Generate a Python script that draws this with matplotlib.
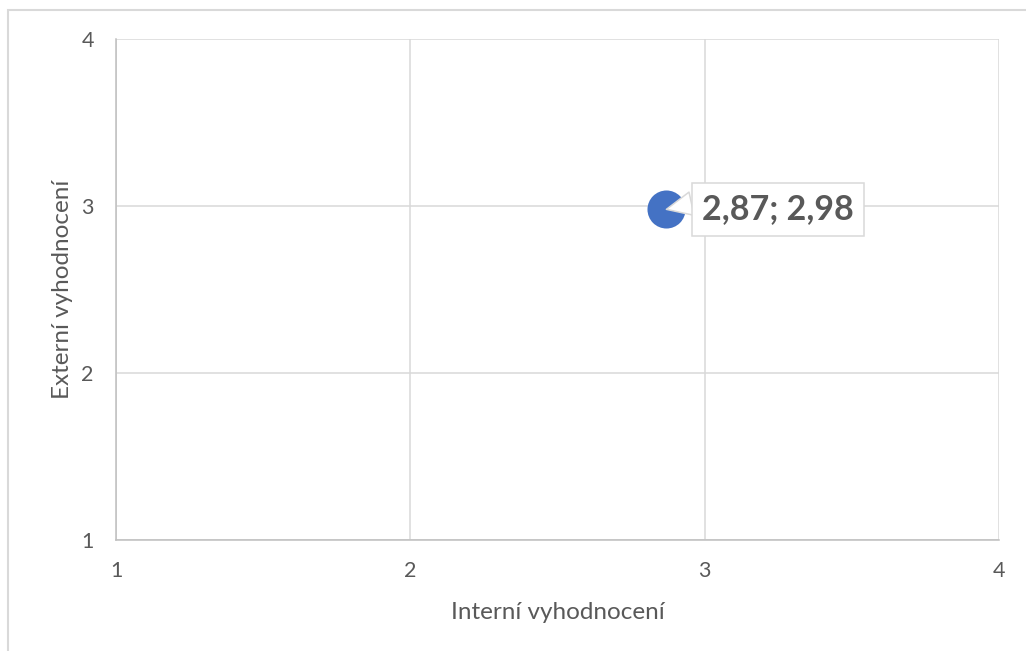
import matplotlib
matplotlib.use('Agg')
import matplotlib.pyplot as plt
from matplotlib.patches import Rectangle

# data
x_vals = [2.87]
y_vals = [2.98]
point_label = '2,87; 2,98'
x_ticks = [1, 2, 3, 4]
y_ticks = [1, 2, 3, 4]
x_title = 'Interní vyhodnocení'
y_title = 'Externí vyhodnocení'

plt.rcParams['font.family'] = ['Lato', 'DejaVu Sans']
text_col = '#595959'
grid_col = '#d9d9d9'

fig = plt.figure(figsize=(10.26, 6.51), dpi=100)
ax = fig.add_axes([116/1026, 1 - 540/651, (999 - 116)/1026, (540 - 39)/651])

ax.set_xlim(1, 4)
ax.set_ylim(1, 4)
ax.set_xticks(x_ticks)
ax.set_yticks(y_ticks)
ax.grid(True, color=grid_col, linewidth=1.1)
ax.set_axisbelow(True)

for s in ['top', 'right']:
	ax.spines[s].set_visible(False)
for s in ['left', 'bottom']:
	ax.spines[s].set_color('#bfbfbf')
	ax.spines[s].set_linewidth(1.1)

ax.tick_params(length=0, labelsize=15.5, labelcolor=text_col)
ax.tick_params(axis='y', pad=16)
ax.tick_params(axis='x', pad=15)

ax.set_xlabel(x_title, fontsize=17.5, color=text_col, labelpad=15)
ax.set_ylabel(y_title, fontsize=17.5, color=text_col, labelpad=6)

ax.scatter(x_vals, y_vals, s=750, color='#4472c4', zorder=3, linewidths=0)

# callout label
ax.annotate(point_label, xy=(x_vals[0], y_vals[0]), xytext=(80.5, 0),
	textcoords='offset points', ha='center', va='center',
	fontsize=24.5, fontweight='bold', color=text_col, zorder=4,
	bbox=dict(boxstyle='square,pad=0.3', fc='white', ec=grid_col, lw=1.1),
	arrowprops=dict(arrowstyle='wedge,tail_width=0.7', fc='white', ec=grid_col,
		lw=1.1, shrinkA=0, shrinkB=0, relpos=(0, 0.75)))

# outer frame (clipped at right and bottom)
fig.patches.append(Rectangle((8/1026, -0.1), 1.2, 1.1 - 10/651, transform=fig.transFigure,
	fill=False, ec=grid_col, lw=1.5, clip_on=False))

fig.savefig('out.png', dpi=100)
